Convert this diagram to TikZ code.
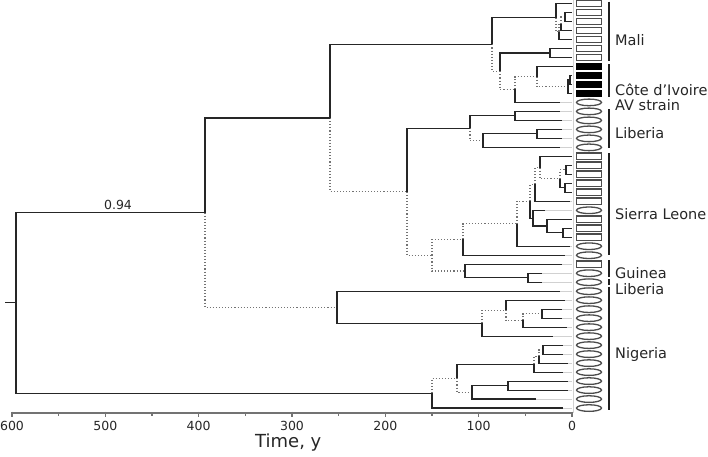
\documentclass[tikz,border=0pt]{standalone}
\usepackage{fontspec}
\setmainfont{DejaVu Sans}
\usetikzlibrary{calc,shapes.geometric}
\newcommand\tn[4]{\path let \p1=($(#3)!.5!(#4)$) in coordinate (#1) at (#2,\y1);}
\begin{document}
\begin{tikzpicture}[x=1pt,y=-1pt,
  br/.style={draw=black!85,line width=1.15pt},
  dt/.style={draw=black!55,line width=1.2pt,dash pattern=on 1.1pt off 2pt},
  ext/.style={draw=black!18,line width=0.7pt},
  rl/.style={rectangle,draw=black!70,line width=1.3pt,minimum width=25pt,minimum height=6.4pt,inner sep=0pt,outer sep=0pt},
  el/.style={ellipse,draw=black!70,line width=1.3pt,minimum width=25pt,minimum height=6.6pt,inner sep=0pt,outer sep=0pt},
  bl/.style={rl,fill=black,draw=black},
  grp/.style={draw=black!88,line width=2pt},
  lab/.style={anchor=base west,font=\fontsize{14.5}{16}\selectfont,inner sep=0pt,text=black!85},
  axis/.style={draw=black!55,line width=1.4pt},
  tlab/.style={font=\fontsize{12.5}{14}\selectfont,inner sep=0pt,text=black!85},
]
\useasboundingbox (0,0) rectangle (708,456);
% leaf tips
\foreach \i/\tx in {1/572,2/572,3/572,4/572,5/572,6/572,7/572,8/573,9/572,10/572,11/572,12/560,
  13/560,14/562,15/562,16/562,17/560,18/572,19/572,20/572,21/572,22/572,23/570,24/545,
  25/572,26/572,27/572,28/570,29/565,30/562,31/542,32/542,33/560,34/565,35/562,36/562,
  37/567,38/553,39/563,40/563,41/568,42/563,43/568,44/568,45/536,46/563}
  {\coordinate (L\i) at (\tx,{3.5+8.99*(\i-1)});}
\coordinate (gx) at (572,0);
% guide lines
\coordinate (gt) at (573,0);
\coordinate (gb) at (573,413);
\draw[ext] (gt) -- (gb);
\foreach \i in {1,...,46} {\draw[ext] (L\i) -- (L\i -| gx);}
% internal nodes
\tn{M3}{565}{L2}{L3}
\tn{M4}{561}{M3}{L4}
\tn{M2}{559}{M4}{L5}
\tn{M1}{556}{L1}{M2}
\tn{Q6}{550}{L6}{L7}
\tn{S2}{570}{L9}{L10}
\tn{S}{568}{S2}{L11}
\tn{R}{537}{L8}{S}
\tn{Q}{515}{R}{L12}
\tn{P}{500}{Q6}{Q}
\tn{D}{492}{M1}{P}
\tn{F1}{515}{L13}{L14}
\tn{F3}{537}{L15}{L16}
\tn{F2}{483}{F3}{L17}
\tn{F}{470}{F1}{F2}
\tn{D1}{566}{L19}{L20}
\tn{E1}{565}{L21}{L22}
\tn{C1}{560}{D1}{E1}
\tn{B1}{540}{L18}{C1}
\tn{A1}{535}{B1}{L23}
\tn{K3}{563}{L26}{L27}
\tn{J3}{547}{L25}{K3}
\tn{J4}{533}{L24}{J3}
\tn{J1}{530}{A1}{J4}
\tn{J}{517}{J1}{L28}
\tn{I}{463}{J}{L29}
\tn{H2}{528}{L31}{L32}
\tn{H}{465}{L30}{H2}
\tn{G}{432}{I}{H}
\tn{E}{407}{F}{G}
\tn{C}{330}{D}{E}
\tn{V}{542}{L35}{L36}
\tn{U}{523}{V}{L37}
\tn{K1}{506}{L34}{U}
\tn{K}{482}{K1}{L38}
\tn{N}{337}{L33}{K}
\tn{B}{205}{C}{N}
\tn{W2}{543}{L39}{L40}
\tn{W1}{539}{W2}{L41}
\tn{W}{534}{W1}{L42}
\tn{X1}{508}{L43}{L44}
\tn{X}{472}{X1}{L45}
\tn{T}{457}{W}{X}
\tn{G2}{432}{T}{L46}
\tn{R0}{16}{B}{G2}
% dotted branches
\foreach \p/\c in {B/N,C/E,D/P,M1/M2,M2/M4,M4/M3,P/Q,Q/R,R/S,E/G,F/F2,G/I,G/H,I/J,J/J1,J1/A1,A1/B1,B1/C1,C1/D1,
  K/K1,K1/U,U/V,G2/T,T/X,W/W1,W1/W2}
  {\draw[dt] (\p) |- (\c);}
% solid branches
\foreach \p/\c in {R0/B,R0/G2,B/C,C/D,D/M1,M1/L1,M2/L5,M4/L4,M3/L2,M3/L3,P/Q6,Q6/L6,Q6/L7,Q/L12,R/L8,
  S/S2,S/L11,S2/L9,S2/L10,E/F,F/F1,F1/L13,F1/L14,F2/F3,F2/L17,F3/L15,F3/L16,I/L29,J/L28,J1/J4,A1/L23,
  B1/L18,C1/E1,D1/L19,D1/L20,E1/L21,E1/L22,J4/L24,J4/J3,J3/L25,J3/K3,K3/L26,K3/L27,H/L30,H/H2,H2/L31,H2/L32,
  N/L33,N/K,K/L38,K1/L34,U/L37,V/L35,V/L36,G2/L46,T/W,W/L42,W1/L41,W2/L39,W2/L40,X/X1,X/L45,X1/L43,X1/L44}
  {\draw[br] (\p) |- (\c);}
\draw[br] (R0) -- ++(-11,0);
\node[tlab,anchor=south] (bs) at (118,210) {0.94};
% leaf symbols
\foreach \i/\s in {1/rl,2/rl,3/rl,4/rl,5/rl,6/rl,7/rl,8/bl,9/bl,10/bl,11/bl,12/el,13/el,14/el,15/el,16/el,17/el,
  18/rl,19/rl,20/rl,21/rl,22/rl,23/rl,24/el,25/rl,26/rl,27/rl,28/el,29/el,30/rl,31/el,32/el,33/el,34/el,35/el,
  36/el,37/el,38/el,39/el,40/el,41/el,42/el,43/el,44/el,45/el,46/el}
  {\node[\s] (S\i) at (589,{3.5+8.99*(\i-1)}) {};}
% group bars
\foreach \n/\a/\b in {g1/1.7/61,g2/64.3/96.7,g3/109.3/148.3,g4/153.3/255,g5/260/276.7,g6/279.3/285,g7/286.7/410}
  {\coordinate (\n a) at (609,\a); \coordinate (\n b) at (609,\b); \draw[grp] (\n a) -- (\n b);}
\node[lab] (t1) at (615,45) {Mali};
\node[lab] (t2) at (615,95.5) {Côte d'Ivoire};
\node[lab] (t3) at (615,110) {AV strain};
\node[lab] (t4) at (615,138.5) {Liberia};
\node[lab] (t5) at (615,219) {Sierra Leone};
\node[lab] (t6) at (615,278.5) {Guinea};
\node[lab] (t7) at (615,294) {Liberia};
\node[lab] (t8) at (615,358.3) {Nigeria};
% axis
\coordinate (ax0) at (12,413);
\coordinate (ax1) at (572,413);
\draw[axis] (ax0) -- (ax1);
\foreach \t in {0,100,...,600} {\draw[axis,line width=1.1pt] ({572-0.93333*\t},411.5) -- ++(0,5.5);
  \node[tlab] (a\t) at ({572-0.93333*\t},425.5) {\t};}
\foreach \t in {50,150,...,550} {\draw[axis,line width=1.1pt] ({572-0.93333*\t},412) -- ++(0,4);}
\node[anchor=base west,inner sep=0pt,font=\fontsize{18}{20}\selectfont,text=black!85] (tt) at (255,447) {Time, y};
\end{tikzpicture}
\end{document}
